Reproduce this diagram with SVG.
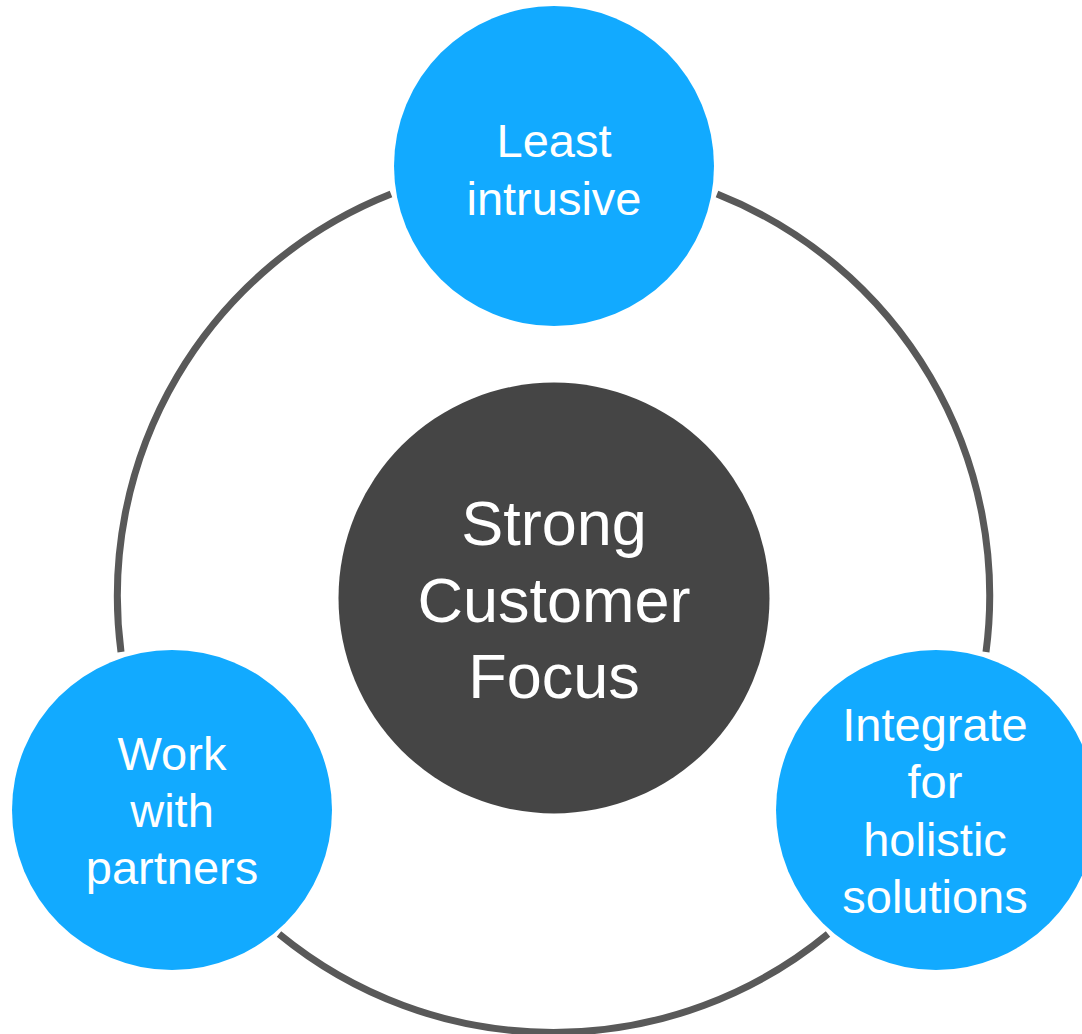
<svg xmlns="http://www.w3.org/2000/svg" width="1082" height="1034" viewBox="0 0 1082 1034">
<style>
.ring{fill:none;stroke:#595959;stroke-width:7;stroke-linecap:butt}
.blue{fill:#12AAFF}
.dark{fill:#454545}
.t{font-family:"Liberation Sans",Arial,sans-serif;fill:#ffffff;text-anchor:middle}
.s{font-size:47px}
.b{font-size:63px}
</style>
<rect width="1082" height="1034" fill="#ffffff"/>
<g id="connectors">
<path class="ring" d="M717,194 A432,432 0 0 1 986,652"/>
<path class="ring" d="M828,934 A432,432 0 0 1 279,934"/>
<path class="ring" d="M121,652 A432,432 0 0 1 391,194"/>
</g>
<g id="center">
<circle class="dark" cx="554" cy="598" r="215.5"/>
<text class="t b" x="554" y="545">Strong</text>
<text class="t b" x="554" y="622">Customer</text>
<text class="t b" x="554" y="698">Focus</text>
</g>
<g id="top">
<circle class="blue" cx="554" cy="166" r="160"/>
<text class="t s" x="554" y="157">Least</text>
<text class="t s" x="554" y="215">intrusive</text>
</g>
<g id="left">
<circle class="blue" cx="172" cy="810" r="160"/>
<text class="t s" x="172" y="770">Work</text>
<text class="t s" x="172" y="827">with</text>
<text class="t s" x="172" y="884">partners</text>
</g>
<g id="right">
<circle class="blue" cx="936" cy="810" r="160"/>
<text class="t s" x="935" y="741">Integrate</text>
<text class="t s" x="935" y="798">for</text>
<text class="t s" x="935" y="856">holistic</text>
<text class="t s" x="935" y="913">solutions</text>
</g>
</svg>
